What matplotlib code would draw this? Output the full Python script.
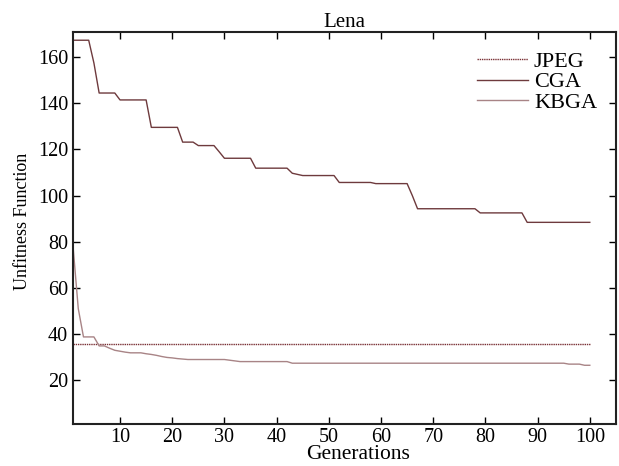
import numpy as np
import matplotlib
matplotlib.use('Agg')
from matplotlib import pyplot as plt

# generations 1..100
generations = list(range(1, 101))

# JPEG baseline (constant)
jpeg = [35.8] * 100

# CGA unfitness per generation
cga = ([167.4] * 4 + [157.5] + [144.5] * 4 + [141.5] * 6 + [129.6] * 6
       + [123.2] * 3 + [121.7] * 4 + [119.0] + [116.2] * 6 + [111.9] * 7
       + [109.7, 109.2] + [108.7] * 7 + [105.7] * 7 + [105.2] * 7 + [100.0]
       + [94.3] * 12 + [92.5] * 9 + [88.4] * 13)

# KBGA unfitness per generation
kbga = ([78.0, 51.0] + [38.7] * 3 + [34.8] * 2 + [33.8, 32.9, 32.5, 32.1]
        + [31.8] * 3 + [31.4, 31.1, 30.7, 30.2, 29.8, 29.6, 29.3, 29.1]
        + [28.9] * 8 + [28.6, 28.3] + [28.0] * 10 + [27.3] * 53
        + [26.9] * 3 + [26.4] * 2)

plt.rcParams['font.family'] = ['Liberation Serif', 'DejaVu Serif']

fig = plt.figure(figsize=(6.19, 4.66), dpi=100)
ax = fig.add_axes([0.118, 0.0895, 0.877, 0.841])

ax.plot(generations, jpeg, color='#7a3035', lw=1.0, linestyle=(0, (1, 0.6)), label='JPEG')
ax.plot(generations, cga, color='#6e3a3d', lw=1.0, label='CGA')
ax.plot(generations, kbga, color='#a88486', lw=1.0, label='KBGA')

ax.set_xlim(1, 105)
ax.set_ylim(0.8, 170.8)
ax.set_xticks(range(10, 101, 10))
ax.set_yticks(range(20, 161, 20))
ax.tick_params(direction='in', top=True, right=True, length=5, width=1, labelsize=14.5)
ax.tick_params(axis='x', pad=2.5)
ax.tick_params(axis='y', pad=3.5)
for s in ax.spines.values():
    s.set_linewidth(1.5)
    s.set_color('#222222')

ax.set_title('Lena', fontsize=15, pad=4)
ax.set_xlabel('Generations', fontsize=15.5)
ax.xaxis.set_label_coords(0.525, -0.052)
ax.set_ylabel('Unfitness Function', fontsize=13)
ax.yaxis.set_label_coords(-0.078, 0.519)

leg = ax.legend(loc='upper right', fontsize=16, frameon=False, handlelength=2.3,
                handletextpad=0.25, labelspacing=0.0, borderaxespad=0.45)

fig.savefig('out.png', dpi=100)
